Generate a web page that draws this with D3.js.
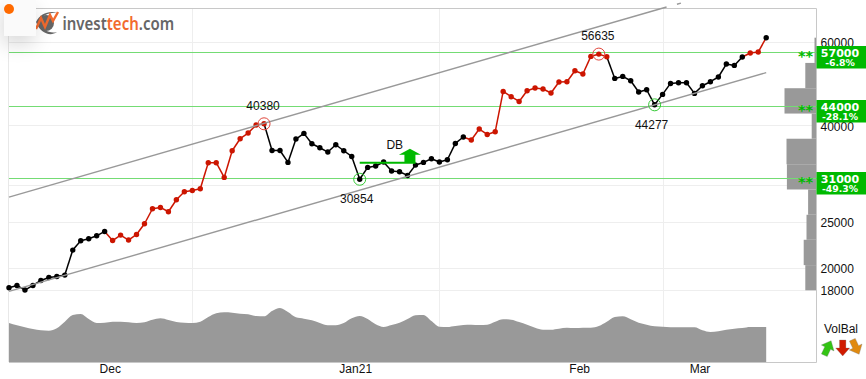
<!DOCTYPE html>
<html><head><meta charset="utf-8">
<script src="https://cdn.jsdelivr.net/npm/d3@7"></script>
<style>
html,body{margin:0;padding:0;background:#fff;overflow:hidden}
#chart{position:absolute;left:0;top:0;font-family:"Liberation Sans",Arial,sans-serif}
#corner{position:absolute;left:4px;top:0;width:32px;height:36px;background:#fafafa;box-shadow:-2px 8px 20px rgba(0,0,0,.16)}
#dot{position:absolute;left:0px;top:4px;width:10px;height:10px;border-radius:50%;background:#ff6a00}
</style></head><body>
<svg id="chart" width="866" height="379"></svg>
<div id="corner"><div id="dot"></div></div>
<script>
const closes=[18220,18430,18020,18430,18880,19160,19250,19380,21880,22890,23120,23450,23950,22920,23530,22970,23600,24860,26740,26910,26350,27930,29040,29220,29470,33430,33430,31130,35430,37560,38610,40140,40380,35480,35480,33480,37500,38540,36660,35950,35210,36480,35430,34460,30854,32680,32900,33540,32110,32000,31430,33050,33480,34090,33540,33920,36710,37870,37320,39370,38350,38860,47250,46050,45010,47410,48040,47810,46890,49460,49530,52250,51410,56000,56635,55920,50330,50820,49770,47120,47640,44277,46570,49120,49290,49290,46800,48570,49530,50680,53970,53610,55840,56930,57210,61330];
const volBal=[39,36.7,34.7,33,31.7,31.3,33.7,40.3,47,48,43,39,39.3,40.3,40.3,39.7,39,39.7,42.3,43.7,42,40,39.3,39,40.3,45,48.7,49.7,49.3,48.3,47.7,46,45.7,51,54,50,44.7,43.3,41.7,39,36.7,36.7,39,43.7,46,43,37.7,35,37,39.3,43,46.7,47,41,35.3,35,36,37,37.3,37,37.3,40.3,42.7,42.3,40,37.3,34.3,32.3,32.3,33.3,34.3,34,34.3,34.3,36,40.3,45,45.7,42.7,39.3,37.3,35.7,35.3,34.7,34.7,34.7,34.7,31.7,30,30.7,32.3,33.3,34,35,35,35];
const redSegments=[[12,32],[57,75],[92,95]];
const redPoints=[[13,32],[58,75],[93,94]];
const upperChannel=[[0,28300],[82.5,71180]];
const upperChannelTail=[[83.8,72120],[84.3,72540]];
const lowerChannel=[[0,17900],[95,51750]];
const gridTicks=[60000,40000,30000,25000,20000,18000];
const priceLabels=[60000,40000,25000,20000,18000];
const monthGrid=[23,54,82];
const monthNames=["Dec","Jan21","Feb","Mar"];
const monthLabelPos=[12.7,43.5,71.6,86.7];
const levels=[57000,44000,31000];
const levelPct=["-6.8%","-28.1%","-49.3%"];
const binEdges=[61330,54260,47990,42440,37560,33190,29360,25970,23000,20340,18000];
const binVolumes=[5,28,80,12,75,74,21,25,32,28];
const peaks=[{i:32,v:40380},{i:74,v:56635}];
const troughs=[{i:44,v:30854},{i:81,v:44277}];

const L=9,R=816.5,T=8,B=362;
const svg=d3.select("#chart");
const x=d3.scaleLinear().domain([0,95]).range([9,766.2]);
const y=d3.scaleLog().domain([18000,60000]).range([290.3,42.2]);
const yVol=d3.scaleLinear().domain([0,100]).range([B,B-100]);
const xVol=d3.scaleLinear().domain([0,100]).range([R,R-40]);
const rowY=v=>Math.floor(y(v))+.5;
const GREY="#999",RED="#cc1500",GREEN="#00b900",LINEGREEN="#74dc74";

// grid
svg.append("g").selectAll("line").data(gridTicks).join("line")
  .attr("x1",L).attr("x2",R).attr("y1",rowY).attr("y2",rowY).attr("stroke","#eee");
svg.append("g").selectAll("line").data(monthGrid).join("line")
  .attr("x1",d=>Math.round(x(d))+.5).attr("x2",d=>Math.round(x(d))+.5).attr("y1",T).attr("y2",B).attr("stroke","#eee");

// volume by price
svg.append("g").selectAll("rect").data(binVolumes).join("rect")
  .attr("x",d=>xVol(d)).attr("width",d=>R-xVol(d))
  .attr("y",(d,i)=>y(binEdges[i])).attr("height",(d,i)=>y(binEdges[i+1])-y(binEdges[i])).attr("fill",GREY);

// frame
svg.append("line").attr("x1",L-.5).attr("x2",L-.5).attr("y1",T).attr("y2",B).attr("stroke","#e8e8e8");
svg.append("path").attr("d",`M${L},${T+.5}H${R}V${B+.5}H${L}`).attr("fill","none").attr("stroke","#c8c8c8");

// VolBal area
svg.append("path").datum(volBal)
  .attr("d",d3.area().x((d,i)=>x(i)).y0(B).y1(d=>yVol(d)).curve(d3.curveMonotoneX))
  .attr("fill",GREY);

// support/resistance
svg.append("g").selectAll("line").data(levels).join("line")
  .attr("x1",L).attr("x2",R).attr("y1",rowY).attr("y2",rowY).attr("stroke",LINEGREEN);

// price line
const inRange=(i,rs)=>rs.some(r=>i>=r[0]&&i<=r[1]);
svg.append("g").selectAll("line").data(d3.range(95)).join("line")
  .attr("x1",i=>x(i)).attr("y1",i=>y(closes[i])).attr("x2",i=>x(i+1)).attr("y2",i=>y(closes[i+1]))
  .attr("stroke",i=>redSegments.some(r=>i>=r[0]&&i<r[1])?RED:"#000").attr("stroke-width",1.5);
svg.append("g").selectAll("circle").data(closes).join("circle")
  .attr("cx",(d,i)=>x(i)).attr("cy",d=>y(d)).attr("r",2.7)
  .attr("fill",(d,i)=>inRange(i,redPoints)?RED:"#000");

// channels
const chan=d3.line().x(d=>x(d[0])).y(d=>y(d[1]));
[upperChannel,upperChannelTail,lowerChannel].forEach(c=>{
  svg.append("path").attr("d",chan(c)).attr("fill","none").attr("stroke",GREY).attr("stroke-width",1.4);
});

// top / bottom markers
svg.append("g").selectAll("circle").data(peaks).join("circle")
  .attr("cx",d=>x(d.i)).attr("cy",d=>y(d.v)).attr("r",6).attr("fill","none").attr("stroke","#e0453a");
svg.append("g").selectAll("circle").data(troughs).join("circle")
  .attr("cx",d=>x(d.i)).attr("cy",d=>y(d.v)).attr("r",6).attr("fill","none").attr("stroke","#35c935");
const lab=(t,xx,yy,a)=>svg.append("text").attr("x",xx).attr("y",yy).attr("text-anchor",a||"middle").attr("font-size",12).attr("fill","#111").text(t);
peaks.forEach(p=>lab(p.v,x(p.i)-1,y(p.v)-14,"middle"));
troughs.forEach(p=>lab(p.v,x(p.i)-3,y(p.v)+24,"middle"));

// double-bottom pattern
const dbI0=44,dbI1=51,dbV=33430;
svg.append("line").attr("x1",x(dbI0)).attr("x2",x(dbI1)).attr("y1",y(dbV)).attr("y2",y(dbV)).attr("stroke",GREEN).attr("stroke-width",2);
const ax=x(50.3),ay=y(dbV);
svg.append("path").attr("d",`M${ax-5.5},${ay}V${ay-8}H${ax-11}L${ax},${ay-14}L${ax+11},${ay-8}H${ax+5.5}V${ay}Z`).attr("fill",GREEN);
lab("DB",x(48.4),149,"middle");

// price axis
const axis=d3.axisRight(y).tickValues(priceLabels).tickSize(0).tickPadding(0).tickFormat(d3.format("d"));
const ag=svg.append("g").attr("transform",`translate(${R+4},0)`).call(axis);
ag.select(".domain").remove();
ag.selectAll("text").style("font-family",'"Liberation Sans",Arial,sans-serif').style("font-size","12px").attr("fill","#111").attr("dy",".36em");

// level tags
const tag=svg.append("g").selectAll("g").data(levels).join("g").attr("transform",d=>`translate(0,${Math.floor(y(d))})`);
tag.append("rect").attr("x",R).attr("width",866-R).attr("y",-6).attr("height",22.5).attr("fill",GREEN);
tag.append("text").attr("x",840).attr("y",4.5).attr("text-anchor","middle").style("font-family","DejaVu Sans").style("font-weight","bold").style("font-size","11px").attr("fill","#fff").text(d=>d);
tag.append("text").attr("x",840).attr("y",13.5).attr("text-anchor","middle").style("font-family","DejaVu Sans").style("font-weight","bold").style("font-size","9.3px").attr("fill","#fff").text((d,i)=>levelPct[i]);
tag.append("text").attr("x",805.5).attr("y",9).attr("text-anchor","middle").style("font-family","DejaVu Sans").style("font-weight","bold").style("font-size","14.5px").attr("fill",GREEN).text("**");

// month labels
svg.append("g").selectAll("text").data(monthNames).join("text")
  .attr("x",(d,i)=>x(monthLabelPos[i])).attr("y",373).attr("text-anchor","middle").attr("font-size",12).attr("fill","#111").text(d=>d);

// VolBal
lab("VolBal",841,333,"middle");
const arrow=(cx,cy,rot,fill)=>svg.append("path").attr("transform",`translate(${cx},${cy}) rotate(${rot})`)
  .attr("d","M-3.2,-8H3.2V0H7L0,8L-7,0H-3.2Z").attr("fill",fill).attr("stroke","#777").attr("stroke-width",.3);
arrow(827.7,348,205,"#33c414");
arrow(842.7,348,0,"#d01a00");
arrow(855.7,347,-25,"#e08a10");

// logo
const logo=svg.append("g");
logo.append("path").attr("d","M36,22C40,13 50,10 58,13C50,12 42,15 39,22C42,30 50,34 57,32C50,37 40,33 36,22Z").attr("fill","#666");
logo.append("circle").attr("cx",46).attr("cy",23).attr("r",8).attr("fill","#666");
logo.append("path").attr("d","M36,29L41,18L45,27L50,15L53,21L58,12").attr("fill","none").attr("stroke","#f26a2e").attr("stroke-width",2.4);
const lt=logo.append("text").attr("x",62.5).attr("y",29.5).attr("textLength",111.6).attr("lengthAdjust","spacingAndGlyphs").style("font-family","Noto Sans").style("font-weight","600").style("font-size","17px").attr("fill","#666");
lt.append("tspan").text("invest");
lt.append("tspan").attr("fill","#f26a2e").text("tech");
lt.append("tspan").text(".com");
</script>
</body></html>
